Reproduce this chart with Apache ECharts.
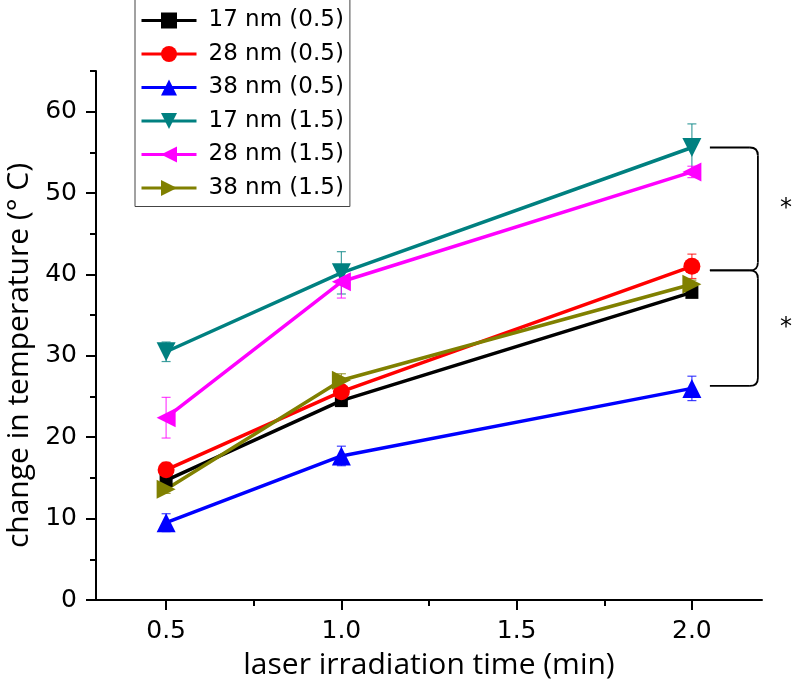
<!DOCTYPE html>
<html>
<head>
<meta charset="utf-8">
<script src="https://cdn.jsdelivr.net/npm/echarts@6/dist/echarts.min.js"></script>
<style>
  html, body { margin: 0; padding: 0; background: #fff; }
  #chart { width: 794px; height: 686px; }
</style>
</head>
<body>
<div id="chart"></div>
<script>
// irradiation times (min)
const times = [0.5, 1.0, 2.0]
const seriesNames = ['17 nm (0.5)', '28 nm (0.5)', '38 nm (0.5)', '17 nm (1.5)', '28 nm (1.5)', '38 nm (1.5)']

// change in temperature and error, per series
const temp17a = [14.7, 24.5, 37.8]
const err17a = [0.5, 0.6, 0.5]
const temp28a = [16.0, 25.6, 41.0]
const err28a = [0.9, 0.8, 1.5]
const temp38a = [9.5, 17.7, 26.0]
const err38a = [1.1, 1.2, 1.5]
const temp17b = [30.5, 40.2, 55.6]
const err17b = [1.2, 2.6, 2.9]
const temp28b = [22.4, 39.1, 52.6]
const err28b = [2.5, 2.0, 0.7]
const temp38b = [13.6, 27.0, 38.8]
const err38b = [0.5, 0.8, 0.5]

const xTicks = [0.5, 1.0, 1.5, 2.0]
const xMinorTicks = [0.75, 1.25, 1.75]
const yTicks = [0, 10, 20, 30, 40, 50, 60]
const yMinorTicks = [5, 15, 25, 35, 45, 55, 65]

const temps = [temp17a, temp28a, temp38a, temp17b, temp28b, temp38b]
const errs = [err17a, err28a, err38a, err17b, err28b, err38b]
const colors = ['#000000', '#ff0000', '#0000ff', '#008080', '#ff00ff', '#808000']
const symbols = ['rect', 'circle', 'triangle', 'triangle', 'triangle', 'triangle']
const rotates = [0, 0, 0, 180, 90, -90]
const sizes = [13, 17, 19, 19, 19, 19]

const tickFont = 'DejaVu Sans'
const titleFont = 'Open Sans'

const chart = echarts.init(document.getElementById('chart'))

const lineSeries = seriesNames.map((name, i) => ({
  name: name,
  type: 'line',
  z: 3,
  data: times.map((t, j) => [t, temps[i][j]]),
  symbol: symbols[i],
  symbolRotate: rotates[i],
  symbolSize: sizes[i],
  color: colors[i],
  lineStyle: { width: 3.5, color: colors[i] },
  itemStyle: { color: colors[i] },
  animation: false
}))

const errSeries = seriesNames.map((name, i) => ({
  type: 'custom',
  z: 2,
  data: times.map((t, j) => [t, temps[i][j] - errs[i][j], temps[i][j] + errs[i][j]]),
  renderItem: function(params, api) {
    const lo = api.coord([api.value(0), api.value(1)])
    const hi = api.coord([api.value(0), api.value(2)])
    const w = 4.5
    const style = { stroke: colors[i], lineWidth: 1.2, opacity: 0.75 }
    return {
      type: 'group',
      children: [
        { type: 'line', shape: { x1: lo[0], y1: lo[1], x2: hi[0], y2: hi[1] }, style: style },
        { type: 'line', shape: { x1: lo[0] - w, y1: lo[1], x2: lo[0] + w, y2: lo[1] }, style: style },
        { type: 'line', shape: { x1: hi[0] - w, y1: hi[1], x2: hi[0] + w, y2: hi[1] }, style: style }
      ]
    }
  },
  animation: false
}))

chart.setOption({
  animation: false,
  grid: { left: 96, right: 32, top: 71, bottom: 86, outerBoundsMode: 'none' },
  legend: {
    data: seriesNames,
    orient: 'vertical',
    left: 135,
    top: -2,
    padding: [11, 6, 7, 5],
    itemWidth: 55,
    itemHeight: 20,
    itemGap: 10.5,
    borderColor: '#444',
    borderWidth: 1,
    lineStyle: { width: 3 },
    textStyle: { fontFamily: tickFont, fontSize: 23, color: '#000', lineHeight: 22, padding: [0, 0, 0, 7] }
  },
  xAxis: [{
    type: 'value',
    min: 0.3,
    max: 2.2,
    name: 'laser irradiation time (min)',
    nameLocation: 'middle',
    nameGap: 50,
    nameTextStyle: { fontFamily: titleFont, fontSize: 30, color: '#000' },
    axisLine: { show: true, onZero: false, lineStyle: { color: '#000', width: 2 } },
    axisTick: { show: true, length: 10, customValues: xTicks, lineStyle: { color: '#000', width: 2 } },
    axisLabel: {
      customValues: xTicks,
      formatter: v => v.toFixed(1),
      margin: 19,
      fontFamily: tickFont,
      fontSize: 25,
      color: '#000'
    },
    splitLine: { show: false }
  }, {
    type: 'value',
    min: 0.3,
    max: 2.2,
    position: 'bottom',
    axisLine: { show: false },
    axisTick: { show: true, length: 6, customValues: xMinorTicks, lineStyle: { color: '#000', width: 2 } },
    axisLabel: { show: false },
    splitLine: { show: false }
  }],
  yAxis: [{
    type: 'value',
    min: 0,
    max: 65,
    name: 'change in temperature (° C)',
    nameLocation: 'middle',
    nameGap: 54,
    nameTextStyle: { fontFamily: titleFont, fontSize: 30, color: '#000', padding: [0, 40, 0, 0] },
    axisLine: { show: true, onZero: false, lineStyle: { color: '#000', width: 2 } },
    axisTick: { show: true, length: 10, customValues: yTicks, lineStyle: { color: '#000', width: 2 } },
    axisLabel: {
      customValues: yTicks,
      margin: 19,
      fontFamily: tickFont,
      fontSize: 25,
      color: '#000'
    },
    splitLine: { show: false }
  }, {
    type: 'value',
    min: 0,
    max: 65,
    position: 'left',
    axisLine: { show: false },
    axisTick: { show: true, length: 6, customValues: yMinorTicks, lineStyle: { color: '#000', width: 2 } },
    axisLabel: { show: false },
    splitLine: { show: false }
  }],
  series: errSeries.concat(lineSeries)
})

// significance brackets beside the 2.0 min points
function bracket(vTop, vBottom) {
  const top = chart.convertToPixel({ gridIndex: 0 }, [2.0, vTop])
  const bot = chart.convertToPixel({ gridIndex: 0 }, [2.0, vBottom])
  const x0 = top[0] + 18
  const x1 = top[0] + 58
  const xv = top[0] + 66
  const yT = top[1]
  const yB = bot[1]
  const s = { stroke: '#000', lineWidth: 1.8, fill: null }
  return [
    { type: 'line', shape: { x1: x0, y1: yT, x2: x1, y2: yT }, style: s },
    { type: 'bezierCurve', shape: { x1: x1, y1: yT, cpx1: xv, cpy1: yT, x2: xv, y2: yT + 8 }, style: s },
    { type: 'line', shape: { x1: xv, y1: yT + 8, x2: xv, y2: yB - 8 }, style: s },
    { type: 'bezierCurve', shape: { x1: xv, y1: yB - 8, cpx1: xv, cpy1: yB, x2: x1, y2: yB }, style: s },
    { type: 'line', shape: { x1: x1, y1: yB, x2: x0, y2: yB }, style: s },
    {
      type: 'text',
      x: top[0] + 94,
      y: (yT + yB) / 2,
      style: { text: '*', fontFamily: tickFont, fontSize: 24, fill: '#000', align: 'center', verticalAlign: 'middle' }
    }
  ]
}

chart.setOption({
  graphic: bracket(temp17b[2], temp28a[2] - 0.5).concat(bracket(temp28a[2] - 0.5, temp38a[2] + 0.3))
})
</script>
</body>
</html>
